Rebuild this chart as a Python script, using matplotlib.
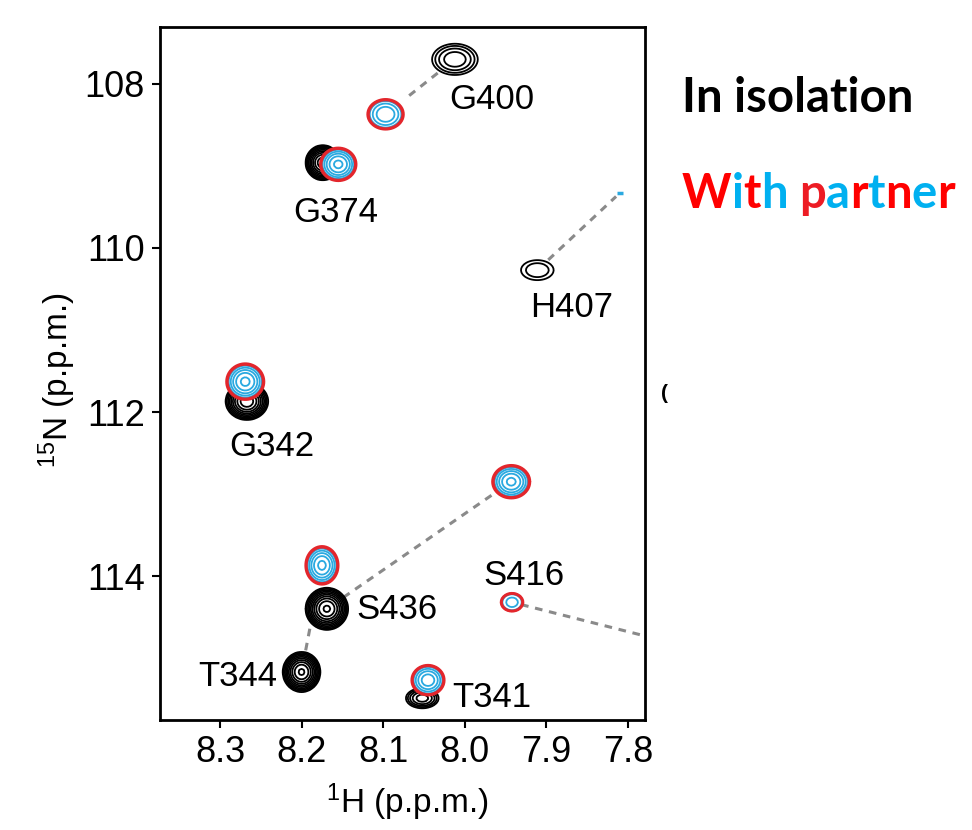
import numpy as np
import matplotlib.pyplot as plt

plt.rcParams['font.family'] = ['Liberation Sans', 'DejaVu Sans']
plt.rcParams['mathtext.fontset'] = 'custom'
plt.rcParams['mathtext.rm'] = 'Liberation Sans'
plt.rcParams['mathtext.default'] = 'regular'

# Peaks of the protein in isolation (black)
black_names = ['G400', 'G374', 'H407', 'G342', 'S436', 'T344', 'T341', 'S416']
black_h = [8.012, 8.174, 7.911, 8.267, 8.169, 8.200, 8.052, 7.700]
black_n = [107.70, 108.96, 110.27, 111.87, 114.40, 115.17, 115.49, 114.93]
black_wh = [0.028, 0.021, 0.020, 0.026, 0.026, 0.023, 0.020, 0.018]   # half width of lowest contour
black_wn = [0.19, 0.213, 0.122, 0.226, 0.256, 0.244, 0.122, 0.146]
black_amp = [3.2, 14, 1.8, 14, 16, 16, 4, 5]

# Peaks with partner (blue / red)
partner_names = ['G400', 'G374', 'G342', 'S436', 'T344', 'T341', 'S416']
partner_h = [8.097, 8.155, 8.269, 7.943, 8.175, 8.045, 7.942]
partner_n = [108.37, 108.98, 111.63, 112.85, 113.87, 115.27, 114.32]
partner_wh = [0.022, 0.022, 0.023, 0.023, 0.020, 0.020, 0.0135]
partner_wn = [0.183, 0.201, 0.22, 0.201, 0.232, 0.183, 0.11]
blue_amp = [3, 5, 5, 5, 5, 4, 1.8]

# H407 with partner: only a small blue spot near the edge
h407_partner = (7.810, 109.33)

# labels
label_names = ['G400', 'G374', 'H407', 'G342', 'S436', 'T344', 'T341', 'S416']
label_h = [7.967, 8.158, 7.869, 8.236, 8.083, 8.2786, 7.967, 7.9275]
label_n = [108.195, 109.573, 110.72, 112.415, 114.41, 115.228, 115.476, 113.988]

# dashed connections: (residue, trim at black end, trim at partner end) in pixels
links = [('G400', 22, 25), ('S436', 20, 22), ('T344', 22, 25), ('S416', 0, 10), ('H407', 15, 5)]

xticks = [8.3, 8.2, 8.1, 8.0, 7.9, 7.8]
yticks = [108, 110, 112, 114]

fig = plt.figure(figsize=(9.72, 8.30), dpi=100)
ax = fig.add_axes([0.1646, 0.1325, 0.499, 0.835])
ax.set_xlim(8.3735, 7.779)
ax.set_ylim(115.756, 107.305)

hh = np.arange(8.45, 7.60, -0.0025)
nn = np.arange(107.0, 116.3, 0.025)
H, N = np.meshgrid(hh, nn)


def field(hs, ns, whs, wns, amps, scale=1.0):
    z = np.zeros_like(H)
    for h, n, wh, wn, a in zip(hs, ns, whs, wns, amps):
        k = np.sqrt(2 * np.log(a))
        sh = wh * scale / k
        sn = wn * scale / k
        z += a * np.exp(-0.5 * (((H - h) / sh) ** 2 + ((N - n) / sn) ** 2))
    return z


black_z = field(black_h, black_n, black_wh, black_wn, black_amp)
blue_z = field(partner_h, partner_n, partner_wh, partner_wn, blue_amp, scale=0.88)
red_z = field(partner_h, partner_n, partner_wh, partner_wn, [3] * len(partner_h))

ax.contour(H, N, black_z, levels=1.35 ** np.arange(0, 11), colors='black',
           linewidths=1.3, zorder=2)
ax.contourf(H, N, red_z, levels=[1, 1e6], colors='white', zorder=3)
ax.contour(H, N, blue_z, levels=1.45 ** np.arange(0, 6), colors='#2aa9e0',
           linewidths=1.3, zorder=4)
ax.contour(H, N, red_z, levels=[1, 1.12], colors='#e3262c', linewidths=1.8, zorder=5)
ax.plot([h407_partner[0]], [h407_partner[1]], marker='_', color='#2aa9e0',
        markersize=5, mew=2.5, zorder=4)

# dashed lines between the two states
fig.canvas.draw()
for name, t1, t2 in links:
    i = black_names.index(name)
    p1 = ax.transData.transform((black_h[i], black_n[i]))
    if name in partner_names:
        j = partner_names.index(name)
        p2 = ax.transData.transform((partner_h[j], partner_n[j]))
    else:
        p2 = ax.transData.transform(h407_partner)
    d = p2 - p1
    u = d / np.hypot(*d)
    a = ax.transData.inverted().transform(p1 + u * t1)
    b = ax.transData.inverted().transform(p2 - u * t2)
    ax.plot([a[0], b[0]], [a[1], b[1]], color='#8a8a8a', lw=2.2,
            linestyle=(0, (2.5, 2.2)), zorder=1)

for name, x, y in zip(label_names, label_h, label_n):
    ax.text(x, y, name, fontsize=25, ha='center', va='center', zorder=6)

ax.set_xticks(xticks)
ax.set_xticklabels(['%.1f' % v for v in xticks])
ax.set_yticks(yticks)
ax.tick_params(direction='out', length=6, width=1.5, labelsize=26, pad=5)
for s in ax.spines.values():
    s.set_linewidth(2)
ax.set_xlabel('$^{1}$H (p.p.m.)', fontsize=24)
ax.set_ylabel('$^{15}$N (p.p.m.)', fontsize=24)
ax.xaxis.set_label_coords(0.51, -0.088)
ax.yaxis.set_label_coords(-0.169, 0.49)

# legend text on the right
fig.text(682 / 972, 1 - 112 / 830, 'In isolation', fontsize=34, fontfamily='Lato',
         fontweight='bold', color='black', va='baseline')

word = 'With partner'
char_colors = ['#ff0000', '#00b0f0', '#ff0000', '#00b0f0', None, '#ed1c24', '#00b0f0',
               '#ff0000', '#00b0f0', '#ff0000', '#00b0f0', '#ff0000']
renderer = fig.canvas.get_renderer()


def text_width(s):
    t = fig.text(0, 0, s + 'I', fontsize=34, fontfamily='Lato', fontweight='bold')
    w = t.get_window_extent(renderer).width
    t.remove()
    t = fig.text(0, 0, 'I', fontsize=34, fontfamily='Lato', fontweight='bold')
    w -= t.get_window_extent(renderer).width
    t.remove()
    return w


x0 = 682
for i, ch in enumerate(word):
    if ch == ' ':
        continue
    x = x0 + (text_width(word[:i]) if i > 0 else 0)
    fig.text(x / 972, 1 - 208 / 830, ch, fontsize=34, fontfamily='Lato',
             fontweight='bold', color=char_colors[i], va='baseline')

# cut-off peak edge outside the frame
fig.text(661 / 972, 1 - 393 / 830, '(', fontsize=15, fontweight='bold', va='center')

fig.savefig('out.png', dpi=100)
